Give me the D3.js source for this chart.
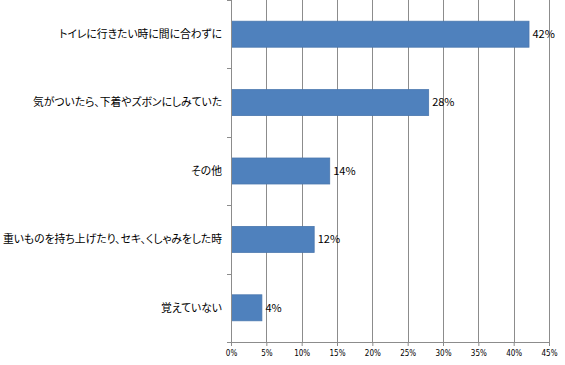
<!DOCTYPE html>
<html>
<head>
<meta charset="utf-8">
<script src="https://cdn.jsdelivr.net/npm/d3@7"></script>
<style>
  body { margin: 0; background: #fff; }
  svg { display: block; font-family: "Noto Sans CJK JP", sans-serif; }
  .cat { font-feature-settings: "palt"; }
</style>
</head>
<body>
<div id="chart"></div>
<script>
// data
var categories = [
  "トイレに行きたい時に間に合わずに",
  "気がついたら、下着やズボンにしみていた",
  "その他",
  "重いものを持ち上げたり、セキ、くしゃみをした時",
  "覚えていない"
];
var values = [42.1, 27.9, 13.9, 11.7, 4.3];
var valueLabels = ["42%", "28%", "14%", "12%", "4%"];
var xTicks = [0, 5, 10, 15, 20, 25, 30, 35, 40, 45];

var margin = {top: 0, right: 16, bottom: 23, left: 231},
  width = 565 - margin.left - margin.right,
  height = 365 - margin.top - margin.bottom;

var x = d3.scaleLinear().domain([0, 45]).range([0, width]);
var y = d3.scaleBand().domain(categories).range([0, height])
  .paddingInner(0.62).paddingOuter(0.31);

var svg = d3.select("#chart").append("svg")
  .attr("width", 565)
  .attr("height", 365);

var g = svg.append("g")
  .attr("transform", "translate(" + margin.left + "," + margin.top + ")");

var grey = "#8c8c8c";

// gridlines
g.selectAll(".grid")
  .data(xTicks.slice(1))
  .enter().append("line")
  .attr("x1", function(d) { return Math.round(x(d)) + 0.5; })
  .attr("x2", function(d) { return Math.round(x(d)) + 0.5; })
  .attr("y1", 0)
  .attr("y2", height)
  .attr("stroke", grey)
  .attr("stroke-width", 1);

// bars
g.selectAll(".bar")
  .data(categories)
  .enter().append("rect")
  .attr("x", x(0) + 0.5)
  .attr("y", function(d) { return y(d); })
  .attr("width", function(d, i) { return x(values[i]) - x(0); })
  .attr("height", y.bandwidth())
  .attr("fill", "#4f81bd")
  .attr("stroke", "#4a77ae")
  .attr("stroke-width", 0.8);

// value labels
g.selectAll(".val")
  .data(categories)
  .enter().append("text")
  .attr("x", function(d, i) { return x(values[i]) + 4; })
  .attr("y", function(d) { return y(d) + y.bandwidth() / 2; })
  .attr("dy", "0.35em")
  .attr("font-size", 11)
  .attr("fill", "#000")
  .text(function(d, i) { return valueLabels[i]; });

// bottom axis
var xAxis = g.append("g")
  .attr("transform", "translate(0," + height + ")")
  .call(d3.axisBottom(x).tickValues(xTicks).tickSize(4).tickSizeOuter(0)
    .tickFormat(function(d) { return d + "%"; }));
xAxis.select(".domain").attr("stroke", grey);
xAxis.selectAll(".tick line").attr("stroke", grey);
xAxis.selectAll(".tick text")
  .attr("font-size", 8)
  .attr("font-family", "DejaVu Sans Condensed, sans-serif")
  .attr("fill", "#000")
  .attr("dy", "0.9em");

// left axis with category ticks at band boundaries
var yAxis = g.append("g");
yAxis.append("line")
  .attr("x1", 0.5).attr("x2", 0.5)
  .attr("y1", 0).attr("y2", height)
  .attr("stroke", grey);
var bounds = d3.range(categories.length + 1).map(function(i) { return i * height / categories.length; });
yAxis.selectAll(".ytick")
  .data(bounds)
  .enter().append("line")
  .attr("x1", -4).attr("x2", 0.5)
  .attr("y1", function(d) { return Math.round(d) + 0.5; })
  .attr("y2", function(d) { return Math.round(d) + 0.5; })
  .attr("stroke", grey);

yAxis.selectAll(".cat")
  .data(categories)
  .enter().append("text")
  .attr("class", "cat")
  .attr("x", -9)
  .attr("y", function(d) { return y(d) + y.bandwidth() / 2; })
  .attr("dy", "0.35em")
  .attr("text-anchor", "end")
  .attr("font-size", 10.8)
  .attr("fill", "#000")
  .text(function(d) { return d; });
</script>
</body>
</html>
